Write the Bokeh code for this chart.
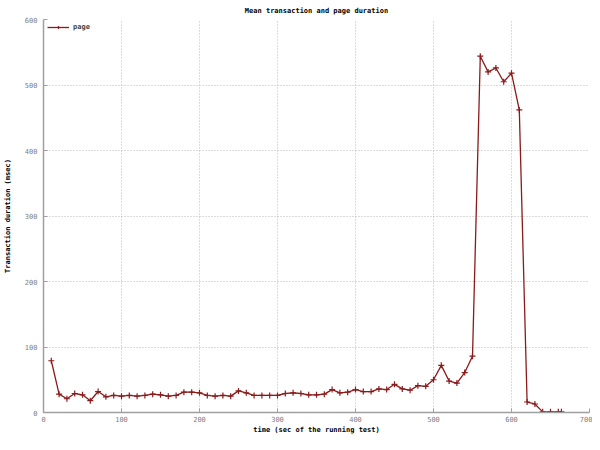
from bokeh.plotting import figure
from bokeh.embed import file_html
from bokeh.resources import INLINE
from bokeh.models import Legend, LegendItem, Range1d, FixedTicker

time_s = [10, 20, 30, 40, 50, 60, 70, 80, 90, 100,
          110, 120, 130, 140, 150, 160, 170, 180, 190, 200,
          210, 220, 230, 240, 250, 260, 270, 280, 290, 300,
          310, 320, 330, 340, 350, 360, 370, 380, 390, 400,
          410, 420, 430, 440, 450, 460, 470, 480, 490, 500,
          510, 520, 530, 540, 550, 560, 570, 580, 590, 600,
          610, 620, 630, 640, 650, 660, 664]
page_ms = [79, 28, 21, 29, 27, 18, 32, 24, 26, 25,
           26, 25, 26, 28, 27, 25, 26, 31, 31, 30,
           26, 25, 26, 25, 33, 30, 26, 26, 26, 26,
           29, 30, 29, 27, 27, 28, 35, 30, 31, 35,
           32, 32, 36, 35, 43, 36, 34, 41, 40, 50,
           72, 48, 45, 61, 86, 544, 520, 526, 505, 518,
           462, 16, 13, 1, 1, 1, 1]
x_ticks = [0, 100, 200, 300, 400, 500, 600, 700]
y_ticks = [0, 100, 200, 300, 400, 500, 600]

COLOR = "#8b1a1a"
FONT = "DejaVu Sans Mono"

p = figure(frame_width=546, frame_height=393, output_backend="svg", toolbar_location=None,
           x_range=Range1d(0, 700), y_range=Range1d(0, 600),
           title="Mean transaction and page duration",
           min_border_left=0, min_border_right=3, min_border_top=0, min_border_bottom=0)
p.title.align = "center"
p.title.text_font = FONT
p.title.text_font_size = "7px"
p.title.text_font_style = "bold"
p.title.text_color = "#000000"
p.title.offset = 0
p.title.standoff = 9

line = p.line(time_s, page_ms, line_color=COLOR, line_width=1.3)
pts = p.scatter(time_s, page_ms, marker="cross", size=6, line_color=COLOR, line_width=1.2)

for ax in (p.xaxis[0], p.yaxis[0]):
    ax.axis_line_color = "#a0a0a0"
    ax.axis_line_width = 1.5
    ax.major_tick_in = 4
    ax.major_tick_out = 0
    ax.major_tick_line_color = "#a0a0a0"
    ax.minor_tick_line_color = None
    ax.major_label_text_font = FONT
    ax.major_label_text_font_size = "7px"
    ax.major_label_text_color = "#808080"
    ax.axis_label_text_font = FONT
    ax.axis_label_text_font_size = "7px"
    ax.axis_label_text_font_style = "bold"
    ax.axis_label_text_color = "#000000"

p.xaxis.ticker = FixedTicker(ticks=x_ticks)
p.yaxis.ticker = FixedTicker(ticks=y_ticks)
p.xaxis.axis_label = "time (sec of the running test)"
p.yaxis.axis_label = "Transaction duration (msec)"
p.xaxis.major_label_standoff = 3
p.yaxis.major_label_standoff = 6
p.xaxis.axis_label_standoff = 1
p.yaxis.axis_label_standoff = 10

p.xgrid.grid_line_color = "#b8b8b8"
p.ygrid.grid_line_color = "#b8b8b8"
p.xgrid.grid_line_dash = "1 2"
p.ygrid.grid_line_dash = "1 2"
p.outline_line_color = None

legend = Legend(items=[LegendItem(label="page", renderers=[line, pts])],
                location="top_left", border_line_color=None, background_fill_alpha=0,
                label_text_font=FONT, label_text_font_size="7px", label_text_font_style="bold",
                glyph_width=22, glyph_height=8, margin=4, padding=2, spacing=0,
                label_standoff=4)
p.add_layout(legend)

open("out.html", "w").write(file_html(p, INLINE))
